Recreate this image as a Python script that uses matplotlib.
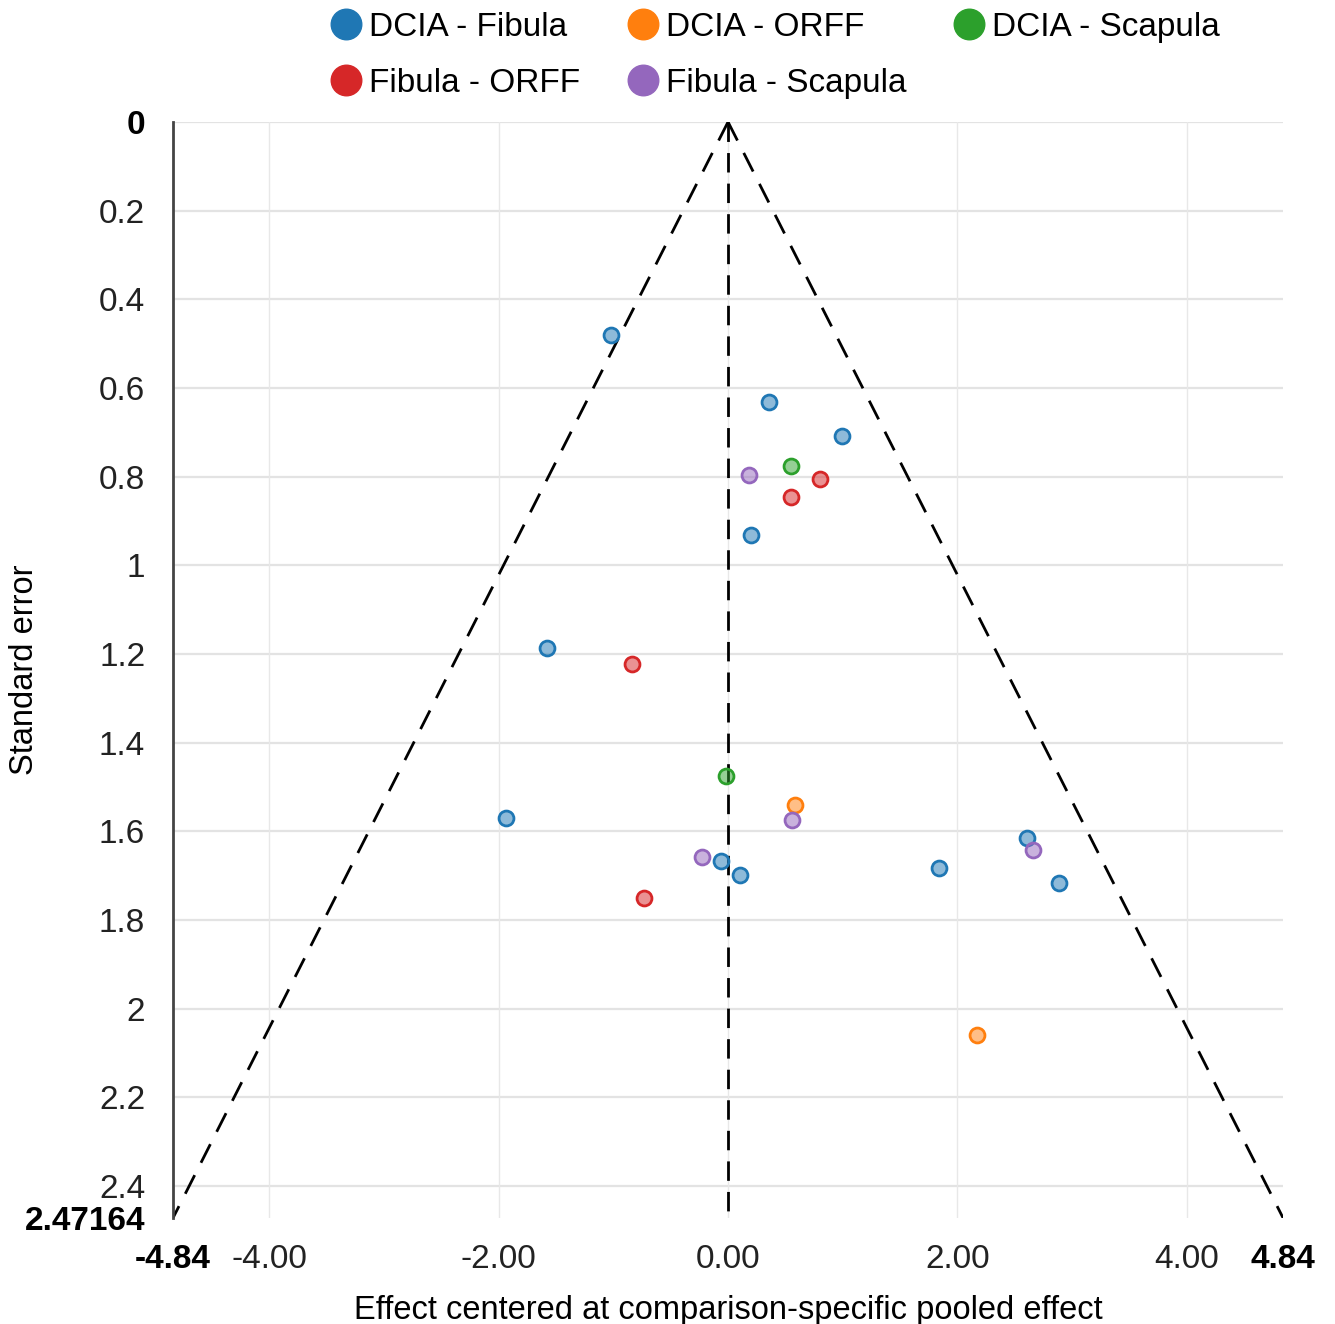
import numpy as np
import matplotlib
matplotlib.use("Agg")
import matplotlib.pyplot as plt
from matplotlib.lines import Line2D

plt.rcParams['font.family'] = ['Liberation Sans', 'DejaVu Sans']

# ===== DATA =====
series_names = ["DCIA - Fibula", "DCIA - ORFF", "DCIA - Scapula", "Fibula - ORFF", "Fibula - Scapula"]
series_colors = ["#1f77b4", "#ff7f0e", "#2ca02c", "#d62728", "#9467bd"]

dcia_fibula_x = [-1.02, 0.36, 0.99, 0.20, -1.58, -1.94, -0.06, 0.10, 1.84, 2.61, 2.89]
dcia_fibula_y = [0.48, 0.632, 0.708, 0.932, 1.187, 1.570, 1.667, 1.699, 1.683, 1.615, 1.717]
dcia_orff_x = [0.58, 2.17]
dcia_orff_y = [1.541, 2.060]
dcia_scapula_x = [0.55, -0.02]
dcia_scapula_y = [0.776, 1.475]
fibula_orff_x = [0.80, 0.55, -0.84, -0.73]
fibula_orff_y = [0.805, 0.846, 1.223, 1.750]
fibula_scapula_x = [0.18, 0.56, -0.23, 2.66]
fibula_scapula_y = [0.796, 1.575, 1.658, 1.642]

series_x = [dcia_fibula_x, dcia_orff_x, dcia_scapula_x, fibula_orff_x, fibula_scapula_x]
series_y = [dcia_fibula_y, dcia_orff_y, dcia_scapula_y, fibula_orff_y, fibula_scapula_y]

max_se = 2.47164
x_limit = 4.84
x_grid = [-4, -2, 0, 2, 4]
y_grid = [0, 0.2, 0.4, 0.6, 0.8, 1.0, 1.2, 1.4, 1.6, 1.8, 2.0, 2.2, 2.4]
x_ticks = [-4.84, -4, -2, 0, 2, 4, 4.84]
x_ticklabels = ["-4.84", "-4.00", "-2.00", "0.00", "2.00", "4.00", "4.84"]
y_ticks = y_grid + [max_se]
y_ticklabels = ["0", "0.2", "0.4", "0.6", "0.8", "1", "1.2", "1.4", "1.6", "1.8", "2", "2.2", "2.4", "2.47164"]


# ===== PLOT =====
fig = plt.figure(figsize=(13.35, 13.24), dpi=100)
ax = fig.add_axes([0.1296, 0.0801, 0.8315, 0.8278])

for g in y_grid:
    ax.axhline(g, color="#e3e3e3", lw=1.6, zorder=0)
for g in x_grid:
    ax.axvline(g, color="#e8e8e8", lw=1.0, zorder=0)

# funnel
ax.plot([0, -x_limit], [0, max_se], color="black", lw=2, ls=(0, (7.5, 5)), zorder=1)
ax.plot([0, x_limit], [0, max_se], color="black", lw=2, ls=(0, (7.5, 5)), zorder=1)
ax.plot([0, 0], [0, max_se], color="black", lw=2, ls=(0, (7, 4)), zorder=1)

for xs, ys, c in zip(series_x, series_y, series_colors):
    ax.scatter(xs, ys, s=115, facecolors=matplotlib.colors.to_rgba(c, 0.5),
               edgecolors=c, linewidths=2, zorder=3)

ax.set_xlim(-x_limit, x_limit)
ax.set_ylim(max_se, 0)

ax.set_xticks(x_ticks)
ax.set_xticklabels(x_ticklabels)
ax.set_yticks(y_ticks)
ax.set_yticklabels(y_ticklabels)
ax.tick_params(axis="both", length=0, labelsize=24, colors="#222222")
ax.tick_params(axis="y", pad=20)
ax.tick_params(axis="x", pad=19)
for i in (0, len(x_ticks) - 1):
    ax.get_xticklabels()[i].set_fontweight("bold")
    ax.get_xticklabels()[i].set_color("black")
for i in (0, len(y_ticks) - 1):
    ax.get_yticklabels()[i].set_fontweight("bold")
    ax.get_yticklabels()[i].set_color("black")

for s in ("top", "right", "bottom"):
    ax.spines[s].set_visible(False)
ax.spines["left"].set_color("#444444")
ax.spines["left"].set_linewidth(2)

ax.set_xlabel("Effect centered at comparison-specific pooled effect", fontsize=23.5, labelpad=14)
ax.set_ylabel("Standard error", fontsize=23.5)
ax.yaxis.set_label_coords(-0.12, 0.5)

# legend, row-major order across 3 columns
handles = [Line2D([], [], ls="none", marker="o", markersize=22, color=c) for c in series_colors]
order = [0, 3, 1, 4, 2]
fig.legend([handles[i] for i in order], [series_names[i] for i in order],
           ncol=3, loc="upper left", bbox_to_anchor=(0.238, 1.001), frameon=False,
           fontsize=24, handlelength=0.9, handletextpad=0.25, columnspacing=1.42,
           labelspacing=0.75, borderaxespad=0)

fig.savefig("out.png", dpi=100)
